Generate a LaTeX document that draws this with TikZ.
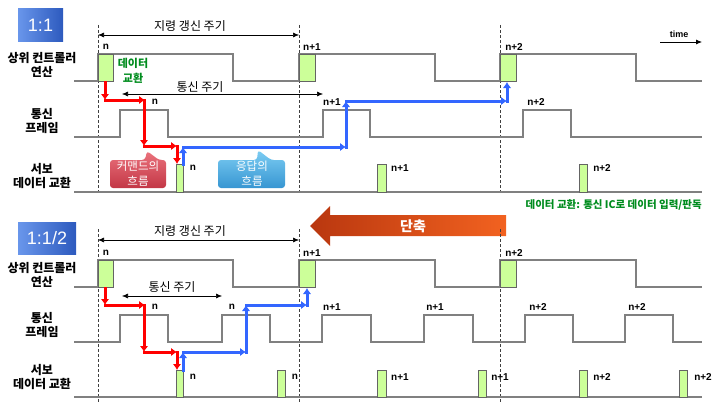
\documentclass[tikz,border=0pt]{standalone}
\usepackage{fontspec}
\setmainfont{Liberation Sans}
\newfontfamily\kr{Noto Sans CJK KR}
\usetikzlibrary{arrows.meta}
\definecolor{wavegray}{RGB}{128,128,128}
\definecolor{boxgreen}{RGB}{204,255,153}
\definecolor{boxedge}{RGB}{100,100,100}
\definecolor{flowred}{RGB}{255,0,0}
\definecolor{flowblue}{RGB}{51,102,255}
\definecolor{txtgreen}{RGB}{0,140,30}
\definecolor{tagA}{RGB}{105,150,235}
\definecolor{tagB}{RGB}{45,90,190}
\definecolor{calRa}{RGB}{235,115,125}
\definecolor{calRb}{RGB}{195,55,70}
\definecolor{calBa}{RGB}{125,205,243}
\definecolor{calBb}{RGB}{55,150,210}
\definecolor{arrA}{RGB}{185,55,15}
\definecolor{arrB}{RGB}{242,98,32}
\begin{document}
\begin{tikzpicture}[x=1pt,y=-1pt,
  wave/.style={draw=wavegray, line width=1.3pt, line join=miter},
  base/.style={draw=wavegray, line width=1.8pt},
  gbox/.style={fill=boxgreen, draw=boxedge, line width=0.8pt},
  vdash/.style={draw=black!75, line width=0.6pt, dash pattern=on 3pt off 2pt},
  period/.style={draw=black, line width=0.6pt, {Latex[length=6pt,width=5pt]}-{Latex[length=6pt,width=5pt]}},
  redarr/.style={draw=flowred, line width=3pt, line cap=rect, -{Latex[length=6pt,width=8.5pt]}},
  bluearr/.style={draw=flowblue, line width=3pt, line cap=rect, -{Latex[length=6pt,width=8.5pt]}},
  lbl/.style={font=\kr\bfseries\fontsize{12}{14}\selectfont, align=center, inner sep=0pt},
  ttl/.style={font=\kr\fontsize{12}{14}\selectfont, inner sep=0pt},
  nlbl/.style={font=\bfseries\fontsize{10}{12}\selectfont, inner sep=0pt},
  caltxt/.style={font=\kr\fontsize{11.5}{15}\selectfont, text=white, align=center, inner sep=0pt},
  tagtxt/.style={font=\fontsize{18}{18}\selectfont, text=white, inner sep=0pt}
]
\useasboundingbox (0,0) rectangle (712,404);

% ================= TOP SECTION (1:1) =================
\shade[left color=tagA, right color=tagB] (18,9) rectangle (63,42);
\node[tagtxt] (tag1) at (40.5,25.5) {1:1};

% row labels
\node[lbl] (t-host) at (42,65) {상위 컨트롤러\\연산};
\node[lbl] (t-comm) at (42,121.5) {통신\\프레임};
\node[lbl] (t-servo) at (42,176) {서보\\데이터 교환};

% dashed lines
\foreach \x in {98,299,500} \draw[vdash] (\x,25) -- (\x,194);

% period arrows
\draw[period] (98,35) -- (299,35);
\node[ttl] (t-cmdper) at (190,26) {지령 갱신 주기};
\draw[period] (122,94) -- (323,94);
\node[ttl] (t-comper) at (200,87) {통신 주기};

% time arrow
\node[font=\bfseries\fontsize{9}{10}\selectfont, inner sep=0pt] (time) at (679,34) {time};
\draw[line width=0.8pt, -{Latex[length=6pt,width=5pt]}] (660,42) -- (702,42);

% host waveform
\draw[wave] (74,81) -- (98,81) -- (98,54) -- (233,54) -- (233,81) -- (299,81) -- (299,54)
  -- (435,54) -- (435,81) -- (500,81) -- (500,54) -- (636,54) -- (636,81) -- (702,81);
\draw[gbox] (98,54) rectangle (113,81);
\draw[gbox] (299,54) rectangle (315,81);
\draw[gbox] (500,54) rectangle (516,81);
\node[nlbl] (th-n) at (106,47) {n};
\node[nlbl] (th-n1) at (312,47) {n+1};
\node[nlbl] (th-n2) at (514,47) {n+2};
\node[font=\kr\bfseries\fontsize{11}{15}\selectfont, text=txtgreen, align=center, inner sep=0pt] (t-dx) at (133,70.5) {데이터\\교환};

% comm frame waveform
\draw[wave] (74,137) -- (120,137) -- (120,110) -- (168,110) -- (168,137) -- (323,137) -- (323,110)
  -- (370,110) -- (370,137) -- (523,137) -- (523,110) -- (571,110) -- (571,137) -- (702,137);
\node[nlbl] (tc-n) at (155,102) {n};
\node[nlbl] (tc-n1) at (332,102) {n+1};
\node[nlbl] (tc-n2) at (536,102) {n+2};

% servo
\draw[base] (74,192) -- (702,192);
\draw[gbox] (176,164) rectangle (183,192);
\draw[gbox] (377,164) rectangle (386,192);
\draw[gbox] (579,164) rectangle (587,192);
\node[nlbl] (ts-n) at (193,168) {n};
\node[nlbl] (ts-n1) at (400,168) {n+1};
\node[nlbl] (ts-n2) at (602,168) {n+2};

% callouts
\shade[top color=calRa, bottom color=calRb, rounded corners=3pt]
  (110,160) -- (145,160) -- (147,151) -- (159,160) -- (166,160) -- (166,188) -- (110,188) -- cycle;
\node[caltxt] (t-cmdflow) at (138,174) {커맨드의\\흐름};
\shade[top color=calBa, bottom color=calBb, rounded corners=3pt]
  (218,160) -- (257,160) -- (258,150) -- (271,160) -- (285,160) -- (285,188) -- (218,188) -- cycle;
\node[caltxt] (t-rspflow) at (252,174) {응답의\\흐름};

% red flow
\draw[redarr] (105,82) -- (105,100);
\draw[redarr] (105,100) -- (145,100);
\draw[redarr] (144,100) -- (144,146);
\draw[redarr] (144,146) -- (177,146);
\draw[redarr] (177,146) -- (177,164);
% blue flow
\draw[bluearr] (183,164) -- (183,147);
\draw[bluearr] (183,147) -- (346,147);
\draw[bluearr] (346,147) -- (346,101);
\draw[bluearr] (346,101) -- (507,101);
\draw[bluearr] (507,101) -- (507,82);

% ================= MIDDLE =================
\shade[left color=arrA, right color=arrB]
  (310,226) -- (330,206) -- (330,215) -- (506,215) -- (506,236) -- (330,236) -- (330,246) -- cycle;
\node[font=\kr\bfseries\fontsize{14}{16}\selectfont, text=white, inner sep=0pt] (short) at (413,226) {단축};
\node[font=\kr\bfseries\fontsize{10.5}{12}\selectfont, text=txtgreen, anchor=east, inner sep=0pt] (note) at (702,205) {데이터 교환: 통신 IC로 데이터 입력/판독};

% ================= BOTTOM SECTION (1:1/2) =================
\shade[left color=tagA, right color=tagB] (18,222) rectangle (76,254);
\node[tagtxt] (tag2) at (47,238) {1:1/2};

\node[lbl] (b-host) at (42,275) {상위 컨트롤러\\연산};
\node[lbl] (b-comm) at (42,325.5) {통신\\프레임};
\node[lbl] (b-servo) at (42,377) {서보\\데이터 교환};

\foreach \x in {98,299,500} \draw[vdash] (\x,229) -- (\x,404);

\draw[period] (98,240) -- (299,240);
\node[ttl] (b-cmdper) at (190,231) {지령 갱신 주기};
\draw[period] (122,296) -- (222,296);
\node[ttl] (b-comper) at (172,287) {통신 주기};

% host waveform
\draw[wave] (74,287) -- (98,287) -- (98,260) -- (233,260) -- (233,287) -- (299,287) -- (299,260)
  -- (435,260) -- (435,287) -- (500,287) -- (500,260) -- (636,260) -- (636,287) -- (702,287);
\draw[gbox] (98,260) rectangle (113,287);
\draw[gbox] (299,260) rectangle (315,287);
\draw[gbox] (500,260) rectangle (516,287);
\node[nlbl] (bh-n) at (106,253) {n};
\node[nlbl] (bh-n1) at (312,253) {n+1};
\node[nlbl] (bh-n2) at (514,253) {n+2};

% comm frame waveform
\draw[wave] (74,342) -- (120,342) -- (120,315) -- (168,315) -- (168,342) -- (222,342) -- (222,315)
  -- (270,315) -- (270,342) -- (322,342) -- (322,315) -- (371,315) -- (371,342) -- (424,342)
  -- (424,315) -- (473,315) -- (473,342) -- (525,342) -- (525,315) -- (573,315) -- (573,342)
  -- (625,342) -- (625,315) -- (673,315) -- (673,342) -- (702,342);
\node[nlbl] (bc-a) at (155,307) {n};
\node[nlbl] (bc-b) at (232,307) {n};
\node[nlbl] (bc-c) at (332,307) {n+1};
\node[nlbl] (bc-d) at (435,307) {n+1};
\node[nlbl] (bc-e) at (538,307) {n+2};
\node[nlbl] (bc-f) at (637,307) {n+2};

% servo
\draw[base] (74,397) -- (702,397);
\foreach \a/\b in {176/183,277/285,377/386,478/486,579/587,679/687}
  \draw[gbox] (\a,370) rectangle (\b,397);
\node[nlbl] (bs-a) at (193,377) {n};
\node[nlbl] (bs-b) at (295,377) {n};
\node[nlbl] (bs-c) at (400,377) {n+1};
\node[nlbl] (bs-d) at (500,377) {n+1};
\node[nlbl] (bs-e) at (602,377) {n+2};
\node[nlbl] (bs-f) at (703,377) {n+2};

% red flow
\draw[redarr] (105,288) -- (105,305);
\draw[redarr] (105,305) -- (145,305);
\draw[redarr] (144,305) -- (144,352);
\draw[redarr] (144,352) -- (177,352);
\draw[redarr] (177,352) -- (177,370);
% blue flow
\draw[bluearr] (183,370) -- (183,352);
\draw[bluearr] (183,352) -- (246,352);
\draw[bluearr] (246,352) -- (246,305);
\draw[bluearr] (246,305) -- (307,305);
\draw[bluearr] (307,305) -- (307,288);
\end{tikzpicture}
\end{document}
